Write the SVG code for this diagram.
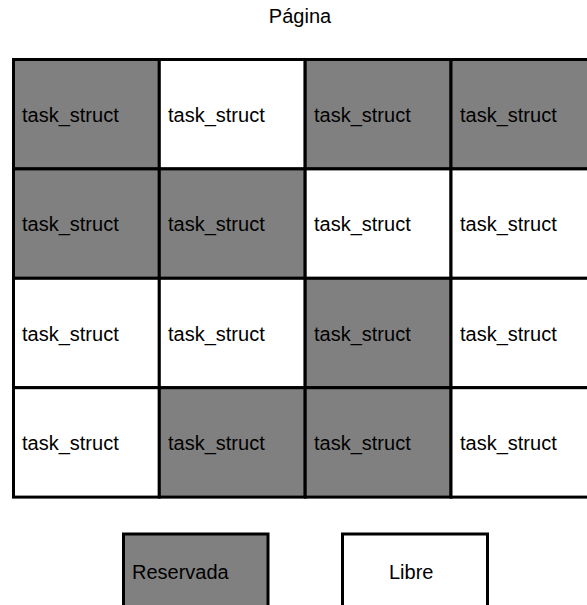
<svg xmlns="http://www.w3.org/2000/svg" width="587" height="605" viewBox="0 0 587 605">
<style>
.c{stroke:#000;stroke-width:3}
.g{fill:#808080}
.w{fill:#fff}
text{font-family:"Liberation Sans",Arial,sans-serif;font-size:20px;fill:#000}
</style>
<rect width="587" height="605" fill="#fff"/>
<text id="title" x="300" y="23" text-anchor="middle">Página</text>
<g id="grid">
<g id="r1c1"><rect class="c g" x="13.5" y="59.5" width="145.8" height="109.4"/><text x="22" y="122">task_struct</text></g>
<g id="r1c2"><rect class="c w" x="159.3" y="59.5" width="145.8" height="109.4"/><text x="168" y="122">task_struct</text></g>
<g id="r1c3"><rect class="c g" x="305.2" y="59.5" width="145.8" height="109.4"/><text x="314" y="122">task_struct</text></g>
<g id="r1c4"><rect class="c g" x="451" y="59.5" width="145.8" height="109.4"/><text x="460" y="122">task_struct</text></g>
<g id="r2c1"><rect class="c g" x="13.5" y="168.9" width="145.8" height="109.4"/><text x="22" y="231.4">task_struct</text></g>
<g id="r2c2"><rect class="c g" x="159.3" y="168.9" width="145.8" height="109.4"/><text x="168" y="231.4">task_struct</text></g>
<g id="r2c3"><rect class="c w" x="305.2" y="168.9" width="145.8" height="109.4"/><text x="314" y="231.4">task_struct</text></g>
<g id="r2c4"><rect class="c w" x="451" y="168.9" width="145.8" height="109.4"/><text x="460" y="231.4">task_struct</text></g>
<g id="r3c1"><rect class="c w" x="13.5" y="278.3" width="145.8" height="109.4"/><text x="22" y="340.8">task_struct</text></g>
<g id="r3c2"><rect class="c w" x="159.3" y="278.3" width="145.8" height="109.4"/><text x="168" y="340.8">task_struct</text></g>
<g id="r3c3"><rect class="c g" x="305.2" y="278.3" width="145.8" height="109.4"/><text x="314" y="340.8">task_struct</text></g>
<g id="r3c4"><rect class="c w" x="451" y="278.3" width="145.8" height="109.4"/><text x="460" y="340.8">task_struct</text></g>
<g id="r4c1"><rect class="c w" x="13.5" y="387.7" width="145.8" height="109.4"/><text x="22" y="450.2">task_struct</text></g>
<g id="r4c2"><rect class="c g" x="159.3" y="387.7" width="145.8" height="109.4"/><text x="168" y="450.2">task_struct</text></g>
<g id="r4c3"><rect class="c g" x="305.2" y="387.7" width="145.8" height="109.4"/><text x="314" y="450.2">task_struct</text></g>
<g id="r4c4"><rect class="c w" x="451" y="387.7" width="145.8" height="109.4"/><text x="460" y="450.2">task_struct</text></g>
</g>
<g id="legend">
<g id="reservada"><rect class="c g" x="123.5" y="534" width="144.5" height="110"/><text x="132" y="579">Reservada</text></g>
<g id="libre"><rect class="c w" x="342.5" y="534" width="145" height="110"/><text x="389" y="579">Libre</text></g>
</g>
<g id="connectors"/>
</svg>
